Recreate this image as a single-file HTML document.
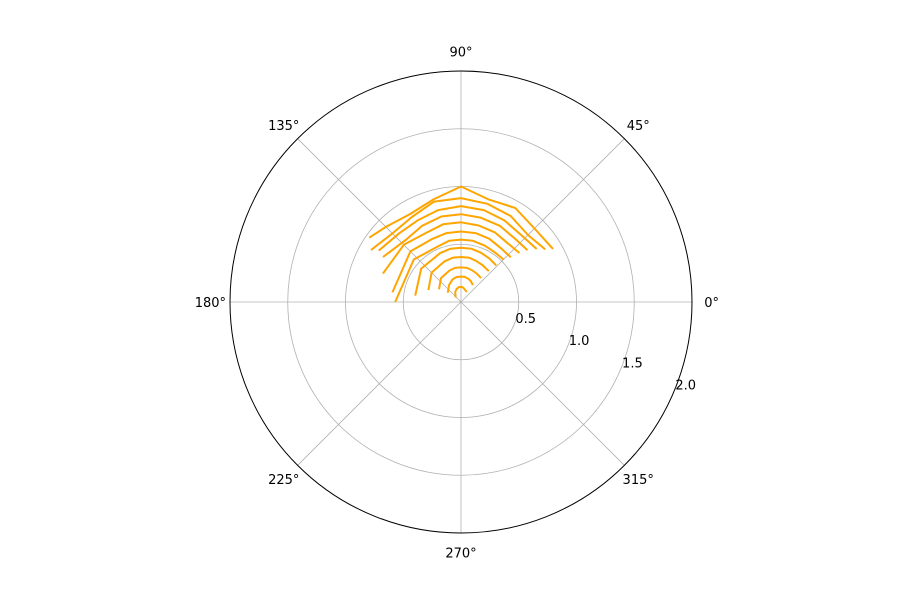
<!DOCTYPE html>
<html><head><meta charset="utf-8"><style>
body{margin:0;background:#fff;font-family:"Liberation Sans","DejaVu Sans",sans-serif;}
svg text{font-family:"DejaVu Sans","Liberation Sans",sans-serif;font-size:13px;fill:#000}
</style></head><body>
<svg id="chart" width="900" height="600" viewBox="0 0 900 600"></svg>
<script>
const angleTicks=[0,45,90,135,180,225,270,315];
const radialTicks=[0.5,1.0,1.5,2.0];
const rMax=2.0;
// each curve: angles (deg) and radii
const curveAngles=[
 [30,45,60,75,90,105,120,135,145],
 [32,45,60,75,90,105,120,135,150],
 [35,48,62,76,90,104,118,132,148],
 [38,50,63,77,90,103,117,132,150],
 [40,52,64,77,90,103,116,135,160],
 [42,54,66,78,90,102,115,135,172],
 [45,56,67,79,90,101,114,138,180],
 [46,57,68,79,90,101,113,140,172],
 [48,60,70,80,90,100,112,135,160],
 [50,60,70,80,90,100,110,130,150],
 [55,65,72,82,90,100,110,125,145],
 [60,70,78,85,90,98,108,120,140]
];
const curveRadii=[
 [0.92,0.90,0.94,0.92,1.00,0.92,0.88,0.92,0.97],
 [0.86,0.82,0.86,0.88,0.90,0.90,0.85,0.84,0.90],
 [0.80,0.78,0.80,0.82,0.83,0.82,0.80,0.80,0.84],
 [0.73,0.72,0.74,0.75,0.76,0.76,0.74,0.72,0.78],
 [0.66,0.65,0.67,0.68,0.69,0.69,0.67,0.70,0.72],
 [0.58,0.58,0.60,0.61,0.61,0.61,0.60,0.62,0.60],
 [0.52,0.52,0.53,0.54,0.54,0.54,0.52,0.55,0.57],
 [0.44,0.45,0.46,0.47,0.47,0.47,0.46,0.45,0.40],
 [0.36,0.37,0.38,0.39,0.39,0.39,0.38,0.36,0.30],
 [0.27,0.28,0.29,0.30,0.30,0.30,0.29,0.27,0.22],
 [0.18,0.20,0.21,0.22,0.22,0.22,0.21,0.18,0.14],
 [0.10,0.11,0.12,0.13,0.13,0.13,0.12,0.10,0.06]
];
const cx=461,cy=302,R=231;
const svg=document.getElementById('chart');
const NS='http://www.w3.org/2000/svg';
function rs(r){return r/rMax*R;}
function px(deg,r){const a=deg*Math.PI/180;return [cx+rs(r)*Math.cos(a),cy-rs(r)*Math.sin(a)];}
function mk(t,attrs){const e=document.createElementNS(NS,t);for(const k in attrs)e.setAttribute(k,attrs[k]);svg.appendChild(e);return e;}
radialTicks.slice(0,3).forEach(v=>{
 const c=mk('circle',{cx:cx,cy:cy,r:rs(v),fill:'none',stroke:'#b0b0b0','stroke-width':0.8});
 
 
});
angleTicks.forEach(d=>{
 const p=px(d,rMax);
 const l=mk('line',{x1:cx,y1:cy,x2:p[0],y2:p[1],stroke:'#b0b0b0','stroke-width':0.8});
 
 
 const q=px(d,rMax*1.085);
 const t=mk('text',{x:q[0],y:q[1]+5,'text-anchor':'middle'});
 t.textContent=d+'°';
 
 
});
curveAngles.forEach((angs,i)=>{
 const pts=angs.map((a,j)=>px(a,curveRadii[i][j]).map(v=>v.toFixed(1)).join(',')).join(' ');
 const pl=mk('polyline',{points:pts,fill:'none',stroke:'#ffa500','stroke-width':2,'stroke-linejoin':'round'});
 
 
});
const outer=mk('circle',{cx:cx,cy:cy,r:R,fill:'none',stroke:'#000','stroke-width':1});


radialTicks.forEach(v=>{
 const p=px(-22.5,v);
 const t=mk('text',{x:p[0]+1,y:p[1]-1,'text-anchor':'start'});
 t.textContent=v.toFixed(1);
 
 
});
</script>
</body></html>
